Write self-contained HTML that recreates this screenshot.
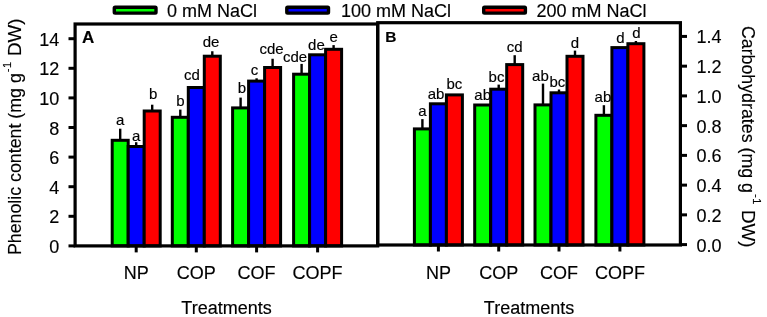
<!DOCTYPE html>
<html><head><meta charset="utf-8"><style>
html,body{margin:0;padding:0;background:#fff;}
svg{display:block;font-family:"Liberation Sans",sans-serif;will-change:transform;}
text{stroke:#000;stroke-width:0.15px;}
</style></head><body>
<svg width="767" height="317" viewBox="0 0 767 317" fill="#000">
<rect x="0" y="0" width="767" height="317" fill="#fff"/>
<rect x="112.20" y="140.30" width="16.00" height="105.60" fill="#00ff00" stroke="#000" stroke-width="3.0"/>
<rect x="128.20" y="146.50" width="16.00" height="99.40" fill="#0000ff" stroke="#000" stroke-width="3.0"/>
<rect x="144.20" y="111.00" width="16.00" height="134.90" fill="#ff0000" stroke="#000" stroke-width="3.0"/>
<line x1="120.20" y1="139.80" x2="120.20" y2="128.70" stroke="#000" stroke-width="2.4"/>
<text x="120.20" y="125.00" font-size="15" text-anchor="middle">a</text>
<line x1="136.20" y1="146.00" x2="136.20" y2="142.20" stroke="#000" stroke-width="2.4"/>
<text x="136.20" y="140.60" font-size="15" text-anchor="middle">a</text>
<line x1="152.20" y1="110.50" x2="152.20" y2="104.70" stroke="#000" stroke-width="2.4"/>
<text x="153.20" y="98.70" font-size="15" text-anchor="middle">b</text>
<rect x="172.30" y="117.30" width="16.00" height="128.60" fill="#00ff00" stroke="#000" stroke-width="3.0"/>
<rect x="188.30" y="87.50" width="16.00" height="158.40" fill="#0000ff" stroke="#000" stroke-width="3.0"/>
<rect x="204.30" y="56.20" width="16.00" height="189.70" fill="#ff0000" stroke="#000" stroke-width="3.0"/>
<line x1="180.30" y1="116.80" x2="180.30" y2="109.60" stroke="#000" stroke-width="2.4"/>
<text x="180.30" y="105.60" font-size="15" text-anchor="middle">b</text>
<text x="192.00" y="80.30" font-size="15" text-anchor="middle">cd</text>
<line x1="212.30" y1="55.70" x2="212.30" y2="51.25" stroke="#000" stroke-width="2.4"/>
<text x="211.00" y="46.95" font-size="15" text-anchor="middle">de</text>
<rect x="232.60" y="107.90" width="16.00" height="138.00" fill="#00ff00" stroke="#000" stroke-width="3.0"/>
<rect x="248.60" y="81.10" width="16.00" height="164.80" fill="#0000ff" stroke="#000" stroke-width="3.0"/>
<rect x="264.60" y="67.50" width="16.00" height="178.40" fill="#ff0000" stroke="#000" stroke-width="3.0"/>
<line x1="240.60" y1="107.40" x2="240.60" y2="97.60" stroke="#000" stroke-width="2.4"/>
<text x="241.80" y="93.40" font-size="15" text-anchor="middle">b</text>
<line x1="256.60" y1="80.60" x2="256.60" y2="78.30" stroke="#000" stroke-width="2.4"/>
<text x="254.60" y="75.30" font-size="15" text-anchor="middle">c</text>
<line x1="272.60" y1="67.00" x2="272.60" y2="58.75" stroke="#000" stroke-width="2.4"/>
<text x="271.60" y="54.45" font-size="15" text-anchor="middle">cde</text>
<rect x="293.60" y="74.20" width="16.00" height="171.70" fill="#00ff00" stroke="#000" stroke-width="3.0"/>
<rect x="309.60" y="54.80" width="16.00" height="191.10" fill="#0000ff" stroke="#000" stroke-width="3.0"/>
<rect x="325.60" y="49.30" width="16.00" height="196.60" fill="#ff0000" stroke="#000" stroke-width="3.0"/>
<line x1="301.60" y1="73.70" x2="301.60" y2="63.90" stroke="#000" stroke-width="2.4"/>
<text x="295.10" y="62.10" font-size="15" text-anchor="middle">cde</text>
<text x="316.40" y="49.70" font-size="15" text-anchor="middle">de</text>
<line x1="333.60" y1="48.80" x2="333.60" y2="45.10" stroke="#000" stroke-width="2.4"/>
<text x="333.60" y="42.10" font-size="15" text-anchor="middle">e</text>
<rect x="414.40" y="128.90" width="16.00" height="116.10" fill="#00ff00" stroke="#000" stroke-width="3.0"/>
<rect x="430.40" y="103.80" width="16.00" height="141.20" fill="#0000ff" stroke="#000" stroke-width="3.0"/>
<rect x="446.40" y="94.90" width="16.00" height="150.10" fill="#ff0000" stroke="#000" stroke-width="3.0"/>
<line x1="422.40" y1="128.40" x2="422.40" y2="119.10" stroke="#000" stroke-width="2.4"/>
<text x="422.40" y="116.10" font-size="15" text-anchor="middle">a</text>
<text x="436.00" y="99.30" font-size="15" text-anchor="middle">ab</text>
<text x="454.40" y="88.50" font-size="15" text-anchor="middle">bc</text>
<rect x="474.70" y="105.00" width="16.00" height="140.00" fill="#00ff00" stroke="#000" stroke-width="3.0"/>
<rect x="490.70" y="89.20" width="16.00" height="155.80" fill="#0000ff" stroke="#000" stroke-width="3.0"/>
<rect x="506.70" y="64.60" width="16.00" height="180.40" fill="#ff0000" stroke="#000" stroke-width="3.0"/>
<text x="482.70" y="100.00" font-size="15" text-anchor="middle">ab</text>
<line x1="498.70" y1="88.70" x2="498.70" y2="84.60" stroke="#000" stroke-width="2.4"/>
<text x="496.50" y="81.60" font-size="15" text-anchor="middle">bc</text>
<line x1="514.70" y1="64.10" x2="514.70" y2="55.20" stroke="#000" stroke-width="2.4"/>
<text x="514.70" y="52.20" font-size="15" text-anchor="middle">cd</text>
<rect x="535.00" y="104.90" width="16.00" height="140.10" fill="#00ff00" stroke="#000" stroke-width="3.0"/>
<rect x="551.00" y="92.80" width="16.00" height="152.20" fill="#0000ff" stroke="#000" stroke-width="3.0"/>
<rect x="567.00" y="56.30" width="16.00" height="188.70" fill="#ff0000" stroke="#000" stroke-width="3.0"/>
<line x1="543.00" y1="104.40" x2="543.00" y2="83.60" stroke="#000" stroke-width="2.4"/>
<text x="540.40" y="80.60" font-size="15" text-anchor="middle">ab</text>
<line x1="559.00" y1="92.30" x2="559.00" y2="89.50" stroke="#000" stroke-width="2.4"/>
<text x="557.30" y="86.50" font-size="15" text-anchor="middle">bc</text>
<line x1="575.00" y1="55.80" x2="575.00" y2="50.60" stroke="#000" stroke-width="2.4"/>
<text x="575.00" y="47.60" font-size="15" text-anchor="middle">d</text>
<rect x="595.90" y="115.30" width="16.00" height="129.70" fill="#00ff00" stroke="#000" stroke-width="3.0"/>
<rect x="611.90" y="47.60" width="16.00" height="197.40" fill="#0000ff" stroke="#000" stroke-width="3.0"/>
<rect x="627.90" y="43.70" width="16.00" height="201.30" fill="#ff0000" stroke="#000" stroke-width="3.0"/>
<line x1="603.90" y1="114.80" x2="603.90" y2="105.20" stroke="#000" stroke-width="2.4"/>
<text x="602.90" y="102.20" font-size="15" text-anchor="middle">ab</text>
<text x="620.40" y="43.10" font-size="15" text-anchor="middle">d</text>
<line x1="635.90" y1="43.20" x2="635.90" y2="41.00" stroke="#000" stroke-width="2.4"/>
<text x="636.40" y="38.00" font-size="15" text-anchor="middle">d</text>
<rect x="75.1" y="24.0" width="302.6" height="221.9" fill="none" stroke="#000" stroke-width="3.2"/>
<rect x="377.7" y="22.7" width="302.7" height="222.3" fill="none" stroke="#000" stroke-width="3.2"/>
<line x1="68.5" y1="245.90" x2="75.1" y2="245.90" stroke="#000" stroke-width="3"/>
<text x="59.3" y="252.90" font-size="18" text-anchor="end">0</text>
<line x1="68.5" y1="216.30" x2="75.1" y2="216.30" stroke="#000" stroke-width="3"/>
<text x="59.3" y="223.30" font-size="18" text-anchor="end">2</text>
<line x1="68.5" y1="186.70" x2="75.1" y2="186.70" stroke="#000" stroke-width="3"/>
<text x="59.3" y="193.70" font-size="18" text-anchor="end">4</text>
<line x1="68.5" y1="157.10" x2="75.1" y2="157.10" stroke="#000" stroke-width="3"/>
<text x="59.3" y="164.10" font-size="18" text-anchor="end">6</text>
<line x1="68.5" y1="127.50" x2="75.1" y2="127.50" stroke="#000" stroke-width="3"/>
<text x="59.3" y="134.50" font-size="18" text-anchor="end">8</text>
<line x1="68.5" y1="97.90" x2="75.1" y2="97.90" stroke="#000" stroke-width="3"/>
<text x="59.3" y="104.90" font-size="18" text-anchor="end">10</text>
<line x1="68.5" y1="68.30" x2="75.1" y2="68.30" stroke="#000" stroke-width="3"/>
<text x="59.3" y="75.30" font-size="18" text-anchor="end">12</text>
<line x1="68.5" y1="38.70" x2="75.1" y2="38.70" stroke="#000" stroke-width="3"/>
<text x="59.3" y="45.70" font-size="18" text-anchor="end">14</text>
<line x1="680.4" y1="244.60" x2="687" y2="244.60" stroke="#000" stroke-width="3"/>
<text x="696.5" y="251.50" font-size="18">0.0</text>
<line x1="680.4" y1="214.86" x2="687" y2="214.86" stroke="#000" stroke-width="3"/>
<text x="696.5" y="221.76" font-size="18">0.2</text>
<line x1="680.4" y1="185.12" x2="687" y2="185.12" stroke="#000" stroke-width="3"/>
<text x="696.5" y="192.02" font-size="18">0.4</text>
<line x1="680.4" y1="155.38" x2="687" y2="155.38" stroke="#000" stroke-width="3"/>
<text x="696.5" y="162.28" font-size="18">0.6</text>
<line x1="680.4" y1="125.64" x2="687" y2="125.64" stroke="#000" stroke-width="3"/>
<text x="696.5" y="132.54" font-size="18">0.8</text>
<line x1="680.4" y1="95.90" x2="687" y2="95.90" stroke="#000" stroke-width="3"/>
<text x="696.5" y="102.80" font-size="18">1.0</text>
<line x1="680.4" y1="66.16" x2="687" y2="66.16" stroke="#000" stroke-width="3"/>
<text x="696.5" y="73.06" font-size="18">1.2</text>
<line x1="680.4" y1="36.42" x2="687" y2="36.42" stroke="#000" stroke-width="3"/>
<text x="696.5" y="43.32" font-size="18">1.4</text>
<line x1="136.20" y1="245.90" x2="136.20" y2="252.40" stroke="#000" stroke-width="3"/>
<text x="136.20" y="278.50" font-size="18" text-anchor="middle">NP</text>
<line x1="196.30" y1="245.90" x2="196.30" y2="252.40" stroke="#000" stroke-width="3"/>
<text x="196.30" y="278.50" font-size="18" text-anchor="middle">COP</text>
<line x1="256.60" y1="245.90" x2="256.60" y2="252.40" stroke="#000" stroke-width="3"/>
<text x="256.60" y="278.50" font-size="18" text-anchor="middle">COF</text>
<line x1="317.60" y1="245.90" x2="317.60" y2="252.40" stroke="#000" stroke-width="3"/>
<text x="317.60" y="278.50" font-size="18" text-anchor="middle">COPF</text>
<line x1="438.40" y1="245.00" x2="438.40" y2="251.50" stroke="#000" stroke-width="3"/>
<text x="438.40" y="278.50" font-size="18" text-anchor="middle">NP</text>
<line x1="498.70" y1="245.00" x2="498.70" y2="251.50" stroke="#000" stroke-width="3"/>
<text x="498.70" y="278.50" font-size="18" text-anchor="middle">COP</text>
<line x1="559.00" y1="245.00" x2="559.00" y2="251.50" stroke="#000" stroke-width="3"/>
<text x="559.00" y="278.50" font-size="18" text-anchor="middle">COF</text>
<line x1="619.90" y1="245.00" x2="619.90" y2="251.50" stroke="#000" stroke-width="3"/>
<text x="619.90" y="278.50" font-size="18" text-anchor="middle">COPF</text>
<text x="82" y="42.6" font-size="17" font-weight="bold">A</text>
<text x="385.3" y="41.7" font-size="15.5" font-weight="bold">B</text>
<text x="226.5" y="313.5" font-size="18" text-anchor="middle">Treatments</text>
<text x="529" y="313.5" font-size="18" text-anchor="middle">Treatments</text>
<text transform="translate(21.3,255.1) rotate(-90)" font-size="17.8">Phenolic content (mg g<tspan dx="1" dy="-10.5" font-size="11">-</tspan><tspan dx="0.6" font-size="11">1</tspan><tspan dx="0.5" dy="10.5" font-size="18.8"> DW)</tspan></text>
<text transform="translate(742.4,25.9) rotate(90)" font-size="17.8">Carbohydrates (mg g<tspan dx="1" dy="-10.5" font-size="11">-</tspan><tspan dx="0.6" font-size="11">1</tspan><tspan dx="0.5" dy="10.5" font-size="18.8"> DW)</tspan></text>
<rect x="114.30" y="7.2" width="41.7" height="5.9" rx="0.8" fill="#00ff00" stroke="#000" stroke-width="3.4"/>
<text x="167" y="16.5" font-size="18">0 mM NaCl</text>
<rect x="286.80" y="7.2" width="41.7" height="5.9" rx="0.8" fill="#0000ff" stroke="#000" stroke-width="3.4"/>
<text x="341" y="16.5" font-size="18">100 mM NaCl</text>
<rect x="483.70" y="7.2" width="41.7" height="5.9" rx="0.8" fill="#ff0000" stroke="#000" stroke-width="3.4"/>
<text x="536.5" y="16.5" font-size="18">200 mM NaCl</text>
</svg>
</body></html>
